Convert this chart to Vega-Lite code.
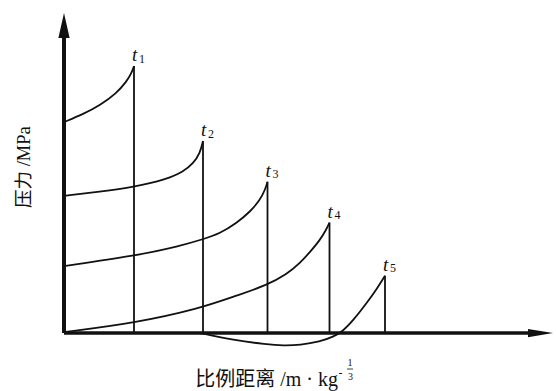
{
  "$schema": "https://vega.github.io/schema/vega-lite/v6.json",
  "width": 556,
  "height": 391,
  "padding": 0,
  "autosize": {"type": "none"},
  "background": "white",
  "config": {"view": {"stroke": null}},
  "data": {"values": [{}]},
  "datasets": {
    "curves": [
      {"series": "t1", "x": 0, "y": 7.03},
      {"series": "t1", "x": 0.39, "y": 7.3},
      {"series": "t1", "x": 0.72, "y": 7.59},
      {"series": "t1", "x": 1.05, "y": 7.99},
      {"series": "t1", "x": 1.25, "y": 8.38},
      {"series": "t1", "x": 1.35, "y": 8.66},
      {"series": "t1", "x": 1.4, "y": 8.9},
      {"series": "t2", "x": 0, "y": 4.57},
      {"series": "t2", "x": 0.72, "y": 4.71},
      {"series": "t2", "x": 1.39, "y": 4.86},
      {"series": "t2", "x": 2.05, "y": 5.12},
      {"series": "t2", "x": 2.39, "y": 5.38},
      {"series": "t2", "x": 2.59, "y": 5.66},
      {"series": "t2", "x": 2.72, "y": 5.99},
      {"series": "t2", "x": 2.78, "y": 6.4},
      {"series": "t3", "x": 0, "y": 2.23},
      {"series": "t3", "x": 1.42, "y": 2.57},
      {"series": "t3", "x": 2.32, "y": 2.9},
      {"series": "t3", "x": 2.77, "y": 3.12},
      {"series": "t3", "x": 3.12, "y": 3.32},
      {"series": "t3", "x": 3.45, "y": 3.66},
      {"series": "t3", "x": 3.72, "y": 4.04},
      {"series": "t3", "x": 3.92, "y": 4.43},
      {"series": "t3", "x": 4.02, "y": 4.77},
      {"series": "t3", "x": 4.07, "y": 5.04},
      {"series": "t4", "x": 0, "y": 0.03},
      {"series": "t4", "x": 1.42, "y": 0.33},
      {"series": "t4", "x": 2.72, "y": 0.82},
      {"series": "t4", "x": 3.39, "y": 1.21},
      {"series": "t4", "x": 4.07, "y": 1.6},
      {"series": "t4", "x": 4.45, "y": 1.95},
      {"series": "t4", "x": 4.72, "y": 2.33},
      {"series": "t4", "x": 4.92, "y": 2.7},
      {"series": "t4", "x": 5.12, "y": 3.1},
      {"series": "t4", "x": 5.24, "y": 3.43},
      {"series": "t4", "x": 5.31, "y": 3.68},
      {"series": "t5", "x": 2.72, "y": 0},
      {"series": "t5", "x": 3.39, "y": -0.24},
      {"series": "t5", "x": 4.05, "y": -0.38},
      {"series": "t5", "x": 4.39, "y": -0.42},
      {"series": "t5", "x": 4.72, "y": -0.4},
      {"series": "t5", "x": 5.12, "y": -0.29},
      {"series": "t5", "x": 5.39, "y": -0.12},
      {"series": "t5", "x": 5.57, "y": 0.05},
      {"series": "t5", "x": 5.79, "y": 0.43},
      {"series": "t5", "x": 6.05, "y": 0.99},
      {"series": "t5", "x": 6.25, "y": 1.45},
      {"series": "t5", "x": 6.42, "y": 1.91}
    ],
    "peaks": [
      {"series": "t1", "n": "1", "x": 1.4, "y": 8.9},
      {"series": "t2", "n": "2", "x": 2.78, "y": 6.4},
      {"series": "t3", "n": "3", "x": 4.07, "y": 5.04},
      {"series": "t4", "n": "4", "x": 5.31, "y": 3.68},
      {"series": "t5", "n": "5", "x": 6.42, "y": 1.91}
    ]
  },
  "layer": [
    {
      "description": "vertical pressure axis",
      "mark": {"type": "rule", "strokeWidth": 4, "color": "#111"},
      "encoding": {
        "x": {"datum": 0, "type": "quantitative", "scale": {"domain": [-1.28, 9.84], "nice": false, "zero": false}, "axis": null},
        "y": {"datum": 0, "type": "quantitative", "scale": {"domain": [-1.9333, 11.1], "nice": false, "zero": false}, "axis": null},
        "y2": {"datum": 10.2}
      }
    },
    {
      "description": "horizontal distance axis",
      "mark": {"type": "rule", "strokeWidth": 3.5, "color": "#111"},
      "encoding": {
        "x": {"datum": 0, "type": "quantitative", "scale": {"domain": [-1.28, 9.84], "nice": false, "zero": false}, "axis": null},
        "x2": {"datum": 9.45},
        "y": {"datum": 0, "type": "quantitative", "scale": {"domain": [-1.9333, 11.1], "nice": false, "zero": false}, "axis": null}
      }
    },
    {
      "description": "arrowhead of the pressure axis",
      "mark": {"type": "point", "filled": true, "color": "#111", "opacity": 1, "strokeWidth": 0, "size": 625, "shape": "M0,-1L0.45,1L-0.45,1Z"},
      "encoding": {
        "x": {"datum": 0, "type": "quantitative", "scale": {"domain": [-1.28, 9.84], "nice": false, "zero": false}, "axis": null},
        "y": {"datum": 10.25, "type": "quantitative", "scale": {"domain": [-1.9333, 11.1], "nice": false, "zero": false}, "axis": null}
      }
    },
    {
      "description": "arrowhead of the distance axis",
      "mark": {"type": "point", "filled": true, "color": "#111", "opacity": 1, "strokeWidth": 0, "size": 625, "shape": "M1,0L-1,0.33L-1,-0.33Z"},
      "encoding": {
        "x": {"datum": 9.53, "type": "quantitative", "scale": {"domain": [-1.28, 9.84], "nice": false, "zero": false}, "axis": null},
        "y": {"datum": 0, "type": "quantitative", "scale": {"domain": [-1.9333, 11.1], "nice": false, "zero": false}, "axis": null}
      }
    },
    {
      "description": "pressure profiles at each instant",
      "data": {"name": "curves"},
      "mark": {"type": "line", "interpolate": "basis", "strokeWidth": 1.8, "color": "#111"},
      "encoding": {
        "x": {"field": "x", "type": "quantitative", "scale": {"domain": [-1.28, 9.84], "nice": false, "zero": false}, "axis": null},
        "y": {"field": "y", "type": "quantitative", "scale": {"domain": [-1.9333, 11.1], "nice": false, "zero": false}, "axis": null},
        "detail": {"field": "series"}
      }
    },
    {
      "description": "shock front drops",
      "data": {"name": "peaks"},
      "mark": {"type": "rule", "strokeWidth": 1.8, "color": "#111"},
      "encoding": {
        "x": {"field": "x", "type": "quantitative", "scale": {"domain": [-1.28, 9.84], "nice": false, "zero": false}, "axis": null},
        "y": {"field": "y", "type": "quantitative", "scale": {"domain": [-1.9333, 11.1], "nice": false, "zero": false}, "axis": null},
        "y2": {"datum": 0}
      }
    },
    {
      "description": "instant labels, letter",
      "data": {"name": "peaks"},
      "mark": {"type": "text", "text": "t", "align": "left", "baseline": "alphabetic", "dx": -2, "dy": -5, "font": "'Liberation Serif', serif", "fontStyle": "italic", "fontSize": 19, "color": "#111"},
      "encoding": {
        "x": {"field": "x", "type": "quantitative", "scale": {"domain": [-1.28, 9.84], "nice": false, "zero": false}, "axis": null},
        "y": {"field": "y", "type": "quantitative", "scale": {"domain": [-1.9333, 11.1], "nice": false, "zero": false}, "axis": null}
      }
    },
    {
      "description": "instant labels, subscript",
      "data": {"name": "peaks"},
      "mark": {"type": "text", "align": "left", "baseline": "alphabetic", "dx": 5, "dy": -3.5, "font": "'Liberation Serif', serif", "fontSize": 12, "color": "#111"},
      "encoding": {
        "x": {"field": "x", "type": "quantitative", "scale": {"domain": [-1.28, 9.84], "nice": false, "zero": false}, "axis": null},
        "y": {"field": "y", "type": "quantitative", "scale": {"domain": [-1.9333, 11.1], "nice": false, "zero": false}, "axis": null},
        "text": {"field": "n"}
      }
    },
    {
      "description": "pressure axis title",
      "mark": {"type": "text", "text": "压力 /MPa", "angle": 270, "align": "center", "baseline": "middle", "font": "'Liberation Serif', 'Noto Sans CJK SC', serif", "fontSize": 18.5, "color": "#111"},
      "encoding": {
        "x": {"datum": -0.8, "type": "quantitative", "scale": {"domain": [-1.28, 9.84], "nice": false, "zero": false}, "axis": null},
        "y": {"datum": 5.53, "type": "quantitative", "scale": {"domain": [-1.9333, 11.1], "nice": false, "zero": false}, "axis": null}
      }
    },
    {
      "description": "distance axis title",
      "mark": {"type": "text", "text": "比例距离 /m · kg", "align": "right", "baseline": "middle", "font": "'Liberation Serif', 'Noto Sans CJK SC', serif", "fontSize": 20, "color": "#111"},
      "encoding": {
        "x": {"datum": 5.48, "type": "quantitative", "scale": {"domain": [-1.28, 9.84], "nice": false, "zero": false}, "axis": null},
        "y": {"datum": -1.567, "type": "quantitative", "scale": {"domain": [-1.9333, 11.1], "nice": false, "zero": false}, "axis": null}
      }
    },
    {
      "description": "exponent minus sign",
      "mark": {"type": "text", "text": "-", "align": "center", "baseline": "middle", "font": "'Liberation Serif', serif", "fontSize": 12, "color": "#111"},
      "encoding": {
        "x": {"datum": 5.53, "type": "quantitative", "scale": {"domain": [-1.28, 9.84], "nice": false, "zero": false}, "axis": null},
        "y": {"datum": -1.333, "type": "quantitative", "scale": {"domain": [-1.9333, 11.1], "nice": false, "zero": false}, "axis": null}
      }
    },
    {
      "description": "exponent numerator",
      "mark": {"type": "text", "text": "1", "align": "center", "baseline": "middle", "font": "'Liberation Serif', serif", "fontSize": 10, "color": "#111"},
      "encoding": {
        "x": {"datum": 5.72, "type": "quantitative", "scale": {"domain": [-1.28, 9.84], "nice": false, "zero": false}, "axis": null},
        "y": {"datum": -1.0, "type": "quantitative", "scale": {"domain": [-1.9333, 11.1], "nice": false, "zero": false}, "axis": null}
      }
    },
    {
      "description": "exponent fraction bar",
      "mark": {"type": "rule", "strokeWidth": 0.8, "color": "#111"},
      "encoding": {
        "x": {"datum": 5.66, "type": "quantitative", "scale": {"domain": [-1.28, 9.84], "nice": false, "zero": false}, "axis": null},
        "x2": {"datum": 5.78},
        "y": {"datum": -1.2, "type": "quantitative", "scale": {"domain": [-1.9333, 11.1], "nice": false, "zero": false}, "axis": null}
      }
    },
    {
      "description": "exponent denominator",
      "mark": {"type": "text", "text": "3", "align": "center", "baseline": "middle", "font": "'Liberation Serif', serif", "fontSize": 10, "color": "#111"},
      "encoding": {
        "x": {"datum": 5.73, "type": "quantitative", "scale": {"domain": [-1.28, 9.84], "nice": false, "zero": false}, "axis": null},
        "y": {"datum": -1.467, "type": "quantitative", "scale": {"domain": [-1.9333, 11.1], "nice": false, "zero": false}, "axis": null}
      }
    }
  ]
}
